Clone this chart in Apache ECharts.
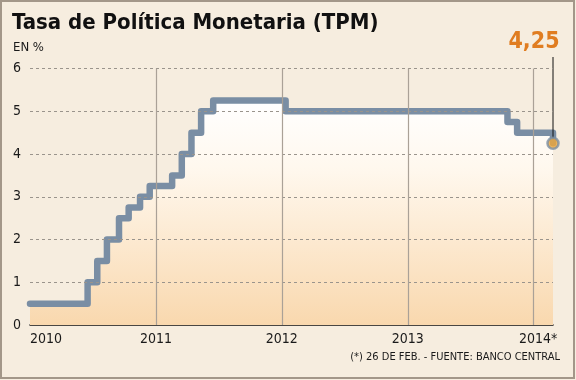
<!DOCTYPE html>
<html>
<head>
<meta charset="utf-8">
<script src="https://cdn.jsdelivr.net/npm/echarts@6/dist/echarts.min.js"></script>
<style>
html,body{margin:0;padding:0;background:#f6eddf;}
#c{width:576px;height:380px;}
</style>
</head>
<body>
<div id="c"></div>
<script>
// ---- data ----
const changeDates = ['2010-01-01','2010-06-17','2010-07-15','2010-08-12','2010-09-16','2010-10-14','2010-11-16','2010-12-14','2011-02-17','2011-03-17','2011-04-14','2011-05-12','2011-06-16','2012-01-12','2013-10-17','2013-11-14','2014-02-26'];
const tpmValues = [0.5,1,1.5,2,2.5,2.75,3,3.25,3.5,4,4.5,5,5.25,5,4.75,4.5,4.25];
const yearTicks = [2010,2011,2012,2013,2014];
const yearLabels = ['2010','2011','2012','2013','2014*'];
const yTicks = [1,2,3,4,5,6];
const lastLabel = '4,25';
const titleText = 'Tasa de Política Monetaria (TPM)';
const unitText = 'EN %';
const noteText = '(*) 26 DE FEB. - FUENTE: BANCO CENTRAL';

function yf(s){
  const d = new Date(s+'T00:00:00Z');
  const y = d.getUTCFullYear();
  const a = Date.UTC(y,0,1), b = Date.UTC(y+1,0,1);
  return y + (d.getTime()-a)/(b-a);
}
const pts = changeDates.map((d,i)=>[yf(d), tpmValues[i]]);
const xMax = yf(changeDates[changeDates.length-1]);
const last = pts[pts.length-1];

const FONT = "'DejaVu Sans Condensed','Liberation Sans',sans-serif";
const lineColor = '#7a8ea4';

const chart = echarts.init(document.getElementById('c'), null, {renderer:'canvas'});
const option = {
  backgroundColor: '#f6eddf',
  animation: false,
  grid: {left:30, right:23, top:68.5, bottom:55},
  xAxis: {
    type:'value', min:2010, max:xMax, interval:1,
    axisLine:{show:true, lineStyle:{color:'#111', width:1.5}},
    axisTick:{show:false},
    splitLine:{show:false},
    axisLabel:{
      margin:7, fontFamily:FONT, fontSize:14, color:'#1a1a1a',
      showMaxLabel:false,
      formatter:function(v){
        const i = yearTicks.indexOf(Math.round(v));
        if(i<0) return '';
        if(i===0) return '{a|'+yearLabels[i]+'}';
        if(i===yearTicks.length-1) return '{b|'+yearLabels[i]+'}';
        return yearLabels[i];
      },
      rich:{
        a:{fontFamily:FONT, fontSize:14, color:'#1a1a1a', padding:[0,0,0,32]},
        b:{fontFamily:FONT, fontSize:14, color:'#1a1a1a', padding:[0,0,0,9]}
      }
    }
  },
  yAxis: {
    type:'value', min:0, max:6, interval:1,
    axisLine:{show:false}, axisTick:{show:false}, splitLine:{show:false},
    axisLabel:{margin:9, fontFamily:FONT, fontSize:14, color:'#1a1a1a'}
  },
  series: [
    {
      name:'area', type:'line', step:'end', data:pts, symbol:'none', z:1,
      lineStyle:{width:0},
      areaStyle:{opacity:1, color:new echarts.graphic.LinearGradient(0,0,0,1,[
        {offset:0, color:'#ffffff'},
        {offset:0.3, color:'#fff8ee'},
        {offset:1, color:'#f9d8ae'}
      ])},
      silent:true
    },
    {
      name:'grid', type:'line', data:[[2010,0]], symbol:'none', z:2,
      lineStyle:{opacity:0}, silent:true,
      markLine:{
        silent:true, symbol:'none', animation:false,
        label:{show:false},
        data: yTicks.map(v=>({yAxis:v, lineStyle:{color:'#9a948c', type:[3,3], width:1}}))
          .concat(yearTicks.slice(1).map(v=>({xAxis:v, lineStyle:{color:'#aaa197', type:'solid', width:1.2}})))
      }
    },
    {
      name:'TPM', type:'line', step:'end', data:pts, symbol:'none', z:3,
      lineStyle:{color:lineColor, width:6.5, cap:'round', join:'round'}
    },
    {
      name:'last', type:'scatter', data:[last], z:5,
      symbolSize:11,
      itemStyle:{color:'#f0a73a', borderColor:lineColor, borderWidth:2.5}
    }
  ]
};
chart.setOption(option);

const p = chart.convertToPixel({gridIndex:0}, last);
chart.setOption({
  graphic:[
    {type:'rect', shape:{x:1,y:1,width:573,height:377}, style:{fill:'none', stroke:'#a39789', lineWidth:2}, z:100},
    {type:'text', left:12, top:12, style:{text:titleText, font:"bold 22px "+FONT, fill:'#111'}},
    {type:'text', left:13, top:41, style:{text:unitText, font:"13px "+FONT, fill:'#1a1a1a'}},
    {type:'text', right:16, top:352, style:{text:noteText, font:"11px "+FONT, fill:'#1a1a1a'}},
    {type:'line', shape:{x1:p[0], y1:57, x2:p[0], y2:p[1]-4}, style:{stroke:'#111', lineWidth:1}, z:4},
    {type:'text', x:p[0]-19, y:42, style:{text:lastLabel, font:"bold 23px "+FONT, fill:'#e07d21', align:'center', verticalAlign:'middle'}}
  ]
});
</script>
</body>
</html>
